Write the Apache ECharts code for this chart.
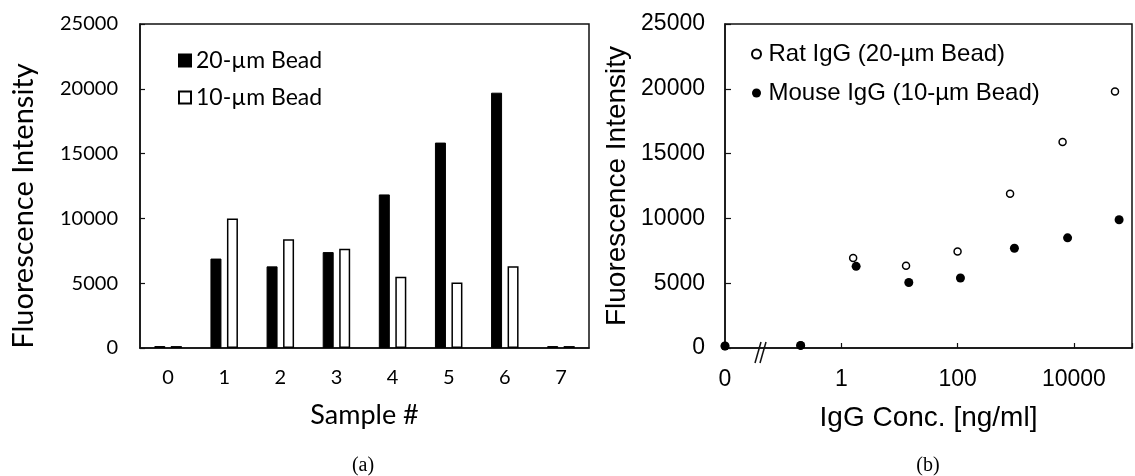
<!DOCTYPE html>
<html><head><meta charset="utf-8">
<script src="https://cdn.jsdelivr.net/npm/echarts@6/dist/echarts.min.js"></script>
<style>html,body{margin:0;padding:0;background:#fff}#c{width:1135px;height:476px}</style>
</head><body><div id="c"></div>
<script>
// ---- data ----
const sampleCategories = ['0', '1', '2', '3', '4', '5', '6', '7'];
const bead20Values = [150, 6900, 6300, 7400, 11850, 15850, 19700, 150];
const bead10Values = [150, 10000, 8400, 7650, 5500, 5050, 6300, 150];

const ratConc = [0.01, 0.2, 1.6, 13, 100, 800, 6400, 51000];
const ratIntensity = [150, 200, 6950, 6350, 7450, 11900, 15900, 19800];
const mouseConc = [0.01, 0.2, 1.8, 14.5, 112, 950, 7800, 60000];
const mouseIntensity = [150, 200, 6300, 5050, 5400, 7700, 8500, 9900];

const concTickValues = [0.01, 1, 100, 10000];
const concTickLabels = ['0', '1', '100', '10000'];
const yTickValues = [0, 5000, 10000, 15000, 20000, 25000];
const yTickLabels = ['0', '5000', '10000', '15000', '20000', '25000'];

// ---- chart ----
const LF = 'Lato', RF = 'Liberation Sans';
const black = '#000';
const chart = echarts.init(document.getElementById('c'));

function concLabel(v) {
  for (let i = 0; i < concTickValues.length; i++) {
    if (Math.abs(Math.log10(v) - Math.log10(concTickValues[i])) < 1e-6) return concTickLabels[i];
  }
  return '';
}
function yLabel(v) {
  const i = yTickValues.indexOf(Math.round(v));
  return i >= 0 ? yTickLabels[i] : '';
}

const axisLineStyle = { lineStyle: { color: '#111', width: 1.5 } };

const option = {
  animation: false,
  backgroundColor: '#fff',
  grid: [
    { left: 140, right: 546, top: 24, bottom: 128, show: true, borderColor: '#111', borderWidth: 1.5 },
    { left: 725, right: -6, top: 24, bottom: 128, show: true, borderColor: '#111', borderWidth: 1.5 }
  ],
  legend: [
    {
      data: ['20-µm Bead', '10-µm Bead'], orient: 'vertical', left: 173, top: 44,
      itemWidth: 12, itemHeight: 12, itemGap: 14, icon: 'rect',
      textStyle: { fontFamily: LF, fontSize: 23, color: black }
    },
    {
      data: ['Rat IgG (20-µm Bead)', 'Mouse IgG (10-µm Bead)'], orient: 'vertical', left: 746, top: 37,
      itemWidth: 14, itemHeight: 9, itemGap: 15,
      textStyle: { fontFamily: RF, fontSize: 24, color: black }
    }
  ],
  xAxis: [
    {
      type: 'category', gridIndex: 0, data: sampleCategories,
      axisTick: { show: false }, axisLine: axisLineStyle,
      axisLabel: { fontFamily: LF, fontSize: 20, color: black, margin: 20 },
      name: 'Sample #', nameLocation: 'middle', nameGap: 54,
      nameTextStyle: { fontFamily: LF, fontSize: 27, color: black }
    },
    {
      type: 'log', logBase: 100, gridIndex: 1, min: 0.01, max: 100000,
      axisLine: axisLineStyle, splitLine: { show: false },
      axisTick: { inside: true, length: 5, lineStyle: { color: '#111', width: 1.2 } },
      axisLabel: { fontFamily: RF, fontSize: 23, color: black, margin: 20, formatter: concLabel },
      name: 'IgG Conc. [ng/ml]', nameLocation: 'middle', nameGap: 56,
      nameTextStyle: { fontFamily: RF, fontSize: 28, color: black }
    }
  ],
  yAxis: [
    {
      type: 'value', gridIndex: 0, min: 0, max: 25000, interval: 5000,
      axisLine: Object.assign({ show: true }, axisLineStyle), splitLine: { show: false },
      axisTick: { show: true, inside: true, length: 5, lineStyle: { color: '#111', width: 1.2 } },
      axisLabel: { fontFamily: LF, fontSize: 20, color: black, margin: 22, formatter: yLabel },
      name: 'Fluorescence Intensity', nameLocation: 'middle', nameGap: 102,
      nameTextStyle: { fontFamily: LF, fontSize: 29, color: black, padding: [0, 40, 0, 0] }
    },
    {
      type: 'value', gridIndex: 1, min: 0, max: 25000, interval: 5000,
      axisLine: Object.assign({ show: true }, axisLineStyle), splitLine: { show: false },
      axisTick: { show: true, inside: true, length: 6, lineStyle: { color: '#111', width: 1.2 } },
      axisLabel: { fontFamily: RF, fontSize: 23, color: black, margin: 20, formatter: yLabel },
      name: 'Fluorescence Intensity', nameLocation: 'middle', nameGap: 94,
      nameTextStyle: { fontFamily: RF, fontSize: 28, color: black }
    }
  ],
  series: [
    {
      name: '20-µm Bead', type: 'bar', xAxisIndex: 0, yAxisIndex: 0, data: bead20Values,
      barWidth: 11, barGap: '50%',
      itemStyle: { color: black, borderColor: black, borderWidth: 1 }
    },
    {
      name: '10-µm Bead', type: 'bar', xAxisIndex: 0, yAxisIndex: 0, data: bead10Values,
      barWidth: 11, barGap: '50%',
      itemStyle: { color: '#fff', borderColor: black, borderWidth: 1.5 }
    },
    {
      name: 'Rat IgG (20-µm Bead)', type: 'scatter', xAxisIndex: 1, yAxisIndex: 1,
      data: ratConc.map((c, i) => [c, ratIntensity[i]]), symbolSize: 7,
      itemStyle: { color: '#fff', borderColor: black, borderWidth: 1.5, opacity: 1 }
    },
    {
      name: 'Mouse IgG (10-µm Bead)', type: 'scatter', xAxisIndex: 1, yAxisIndex: 1,
      data: mouseConc.map((c, i) => [c, mouseIntensity[i]]), symbolSize: 9,
      itemStyle: { color: black, opacity: 1 }
    }
  ],
  graphic: [
    { type: 'line', shape: { x1: 755, y1: 363, x2: 761, y2: 342 }, style: { stroke: '#111', lineWidth: 1.5 }, z: 100 },
    { type: 'line', shape: { x1: 760, y1: 363, x2: 766, y2: 342 }, style: { stroke: '#111', lineWidth: 1.5 }, z: 100 },
    { type: 'text', x: 363, y: 466, style: { text: '(a)', font: '20px "Liberation Serif"', fill: black, textAlign: 'center', textVerticalAlign: 'middle' } },
    { type: 'text', x: 928, y: 466, style: { text: '(b)', font: '20px "Liberation Serif"', fill: black, textAlign: 'center', textVerticalAlign: 'middle' } }
  ]
};
chart.setOption(option);
</script>
</body></html>
